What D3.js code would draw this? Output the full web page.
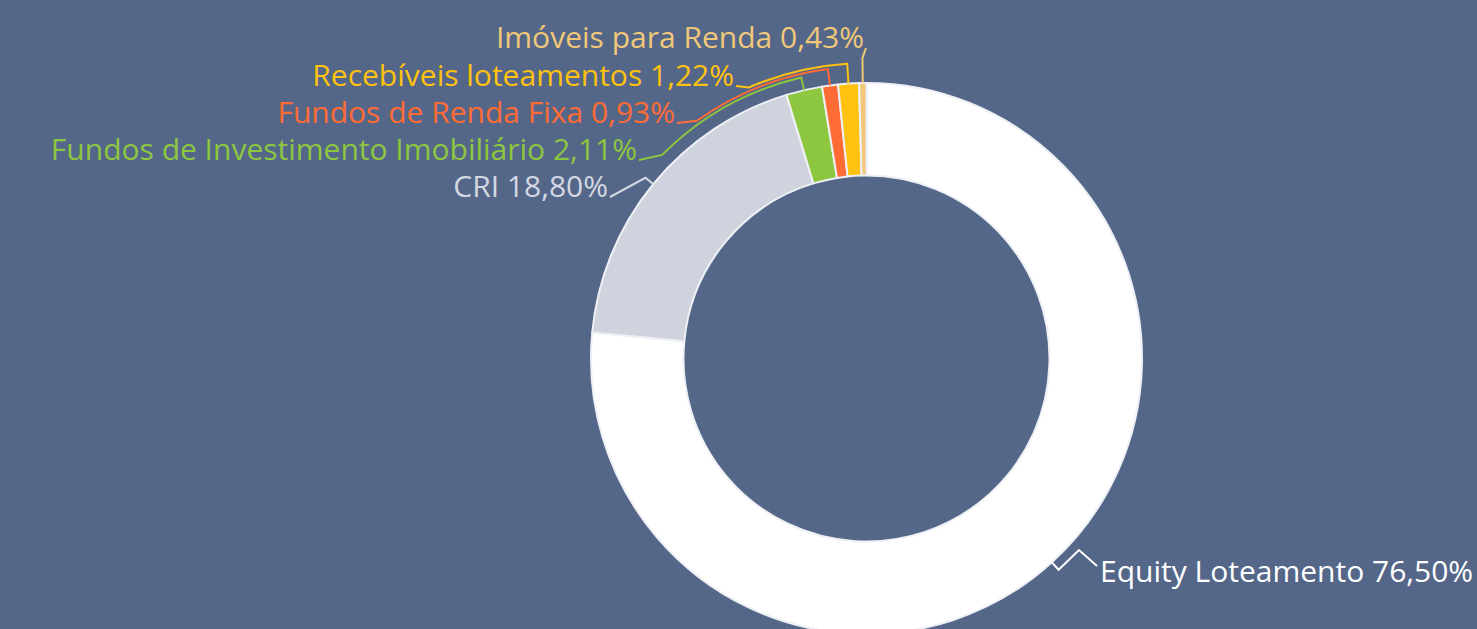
<!DOCTYPE html>
<html>
<head>
<meta charset="utf-8">
<script src="https://cdn.jsdelivr.net/npm/d3@7"></script>
<style>
  html, body { margin: 0; padding: 0; background: #546789; overflow: hidden; }
  svg text { font-family: "Open Sans", "Noto Sans", sans-serif; }
</style>
</head>
<body>
<div id="chart"></div>
<script>
// chart data
const categories = [
  "Equity Loteamento",
  "CRI",
  "Fundos de Investimento Imobiliário",
  "Fundos de Renda Fixa",
  "Recebíveis loteamentos",
  "Imóveis para Renda"
];
const values = [76.50, 18.80, 2.11, 0.93, 1.22, 0.43];
const sliceColors = ["#ffffff", "#cfd3de", "#8dc63f", "#ff6b35", "#ffc20e", "#f0c878"];
const labelColors = ["#ffffff", "#d3d7e1", "#8dc63f", "#ff6b35", "#ffc20e", "#f0c878"];

const width = 1477;
const height = 629;
const center = { x: 866.5, y: 358.5 };
const radius = { outer: 275.5, inner: 183 };

// label layout: anchor point + how the leader bends
const labelLayout = [
  { x: 1100, y: 582, anchor: "start", lift: 10, via: [[-21, -32], [-3, -16]] },
  { x: 608, y: 197, anchor: "end", lift: 10 },
  { x: 637, y: 160, anchor: "end", lift: 13, arcTo: 314.9 },
  { x: 675, y: 123, anchor: "end", lift: 16.5, arcTo: 324.5 },
  { x: 734, y: 86, anchor: "end", lift: 20, arcTo: 336.5 },
  { x: 864, y: 48, anchor: "end", lift: 25 }
];

const locale = d3.formatLocale({ decimal: ",", thousands: ".", grouping: [3], currency: ["R$", ""] });
const fmt = locale.format(".2f");

const svg = d3.select("#chart")
  .append("svg")
  .attr("width", width)
  .attr("height", height);

const pie = d3.pie().sort(null).value(function(d) { return d; });
const arcs = pie(values);

const arc = d3.arc()
  .innerRadius(radius.inner)
  .outerRadius(radius.outer);

const g = svg.append("g")
  .attr("transform", "translate(" + center.x + "," + center.y + ")");

g.selectAll("path.slice")
  .data(arcs)
  .enter()
  .append("path")
  .attr("class", "slice")
  .attr("d", arc)
  .attr("fill", function(d, i) { return sliceColors[i]; })
  .attr("stroke", "#eef0f5")
  .attr("stroke-width", 2)
  .attr("stroke-linejoin", "round");

// point on a circle, angle in radians clockwise from 12 o'clock
function polar(r, a) {
  return [r * Math.sin(a), -r * Math.cos(a)];
}

// leader lines
function leaderPath(d, i) {
  var L = labelLayout[i];
  var mid = (d.startAngle + d.endAngle) / 2;
  var p = d3.path();
  var p0 = polar(radius.outer, mid);
  var r1 = radius.outer + L.lift;
  var p1 = polar(r1, mid);
  p.moveTo(p0[0], p0[1]);
  p.lineTo(p1[0], p1[1]);
  if (L.arcTo !== undefined) {
    // d3.path angles start at 3 o'clock, so shift by a quarter turn
    var a2 = L.arcTo * Math.PI / 180;
    p.arc(0, 0, r1, mid - Math.PI / 2, a2 - Math.PI / 2, true);
  }
  var lx = L.x - center.x, ly = L.y - center.y;
  if (L.via) {
    L.via.forEach(function(v) { p.lineTo(lx + v[0], ly + v[1]); });
  } else {
    p.lineTo(lx + 2, ly);
  }
  return p.toString();
}

g.selectAll("path.leader")
  .data(arcs)
  .enter()
  .append("path")
  .attr("class", "leader")
  .attr("d", leaderPath)
  .attr("fill", "none")
  .attr("stroke", function(d, i) { return labelColors[i]; })
  .attr("stroke-width", 2);

svg.selectAll("text.label")
  .data(arcs)
  .enter()
  .append("text")
  .attr("class", "label")
  .attr("x", function(d, i) { return labelLayout[i].x; })
  .attr("y", function(d, i) { return labelLayout[i].y; })
  .attr("text-anchor", function(d, i) { return labelLayout[i].anchor; })
  .attr("fill", function(d, i) { return labelColors[i]; })
  .attr("font-size", 30)
  .text(function(d, i) { return categories[i] + " " + fmt(values[i]) + "%"; });
</script>
</body>
</html>
